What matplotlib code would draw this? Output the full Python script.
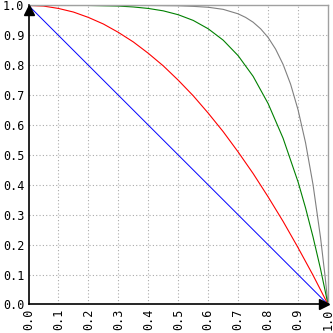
import matplotlib
matplotlib.use("Agg")
import matplotlib.pyplot as plt

# # # # # data # # # # #

# diagonal (blue)
x_blue = [0.0, 1.0]
y_blue = [1.0, 0.0]

# common x grid for the red and green curves
x_std = [0.0, 0.05, 0.1, 0.15, 0.2, 0.25, 0.3, 0.35, 0.4, 0.45, 0.5,
         0.55, 0.6, 0.65, 0.7, 0.75, 0.8, 0.85, 0.9, 0.925, 0.95, 0.975, 1.0]

y_red = [1.0, 0.998, 0.99, 0.978, 0.96, 0.938, 0.91, 0.878, 0.84, 0.798, 0.75,
         0.698, 0.64, 0.578, 0.51, 0.438, 0.36, 0.278, 0.19, 0.144, 0.098, 0.049, 0.0]

y_green = [1.0, 1.0, 1.0, 1.0, 1.0, 0.999, 0.998, 0.995, 0.99, 0.982, 0.969,
           0.95, 0.922, 0.884, 0.832, 0.763, 0.672, 0.556, 0.41, 0.323, 0.226, 0.119, 0.0]

x_gray = [0.0, 0.25, 0.4, 0.5, 0.55, 0.6, 0.65, 0.7, 0.725, 0.75, 0.775, 0.8, 0.825, 0.85,
          0.875, 0.9, 0.925, 0.95, 0.975, 0.99, 1.0]
y_gray = [1.0, 1.0, 1.0, 0.999, 0.997, 0.994, 0.987, 0.972, 0.96, 0.944, 0.922, 0.893,
          0.854, 0.803, 0.737, 0.651, 0.541, 0.401, 0.224, 0.096, 0.0]

ticks = [0.0, 0.1, 0.2, 0.3, 0.4, 0.5, 0.6, 0.7, 0.8, 0.9, 1.0]
tick_labels = ["%.1f" % t for t in ticks]


# # # # # figure # # # # #

fig = plt.figure(figsize=(3.33, 3.33), dpi=100)
ax = fig.add_axes([0.0856, 0.0856, 0.8994, 0.898])

# dotted grid
for t in ticks[1:-1]:
	ax.axvline(t, color="#aaaaaa", linestyle=(0, (1, 2)), linewidth=0.8, zorder=0)
	ax.axhline(t, color="#aaaaaa", linestyle=(0, (1, 2)), linewidth=0.8, zorder=0)

# curves
ax.plot(x_gray, y_gray, color="#808080", linewidth=0.8, zorder=2)
ax.plot(x_std, y_green, color="#008000", linewidth=0.8, zorder=2)
ax.plot(x_std, y_red, color="#ff0000", linewidth=0.8, zorder=2)
ax.plot(x_blue, y_blue, color="#0000ff", linewidth=0.7, zorder=2)

ax.set_xlim(0, 1)
ax.set_ylim(0, 1)

# spines
ax.spines["left"].set_color("black")
ax.spines["bottom"].set_color("black")
ax.spines["left"].set_linewidth(1.2)
ax.spines["bottom"].set_linewidth(1.2)
ax.spines["top"].set_color("#a0a0a0")
ax.spines["right"].set_color("#a0a0a0")
ax.spines["top"].set_linewidth(1.0)
ax.spines["right"].set_linewidth(1.0)

# arrow heads on the axes
ax.plot(0, 0.984, marker="^", color="black", markersize=6.5, clip_on=False, zorder=5)
ax.plot(0.986, 0, marker=">", color="black", markersize=6.5, clip_on=False, zorder=5)

# ticks
ax.set_xticks(ticks)
ax.set_yticks(ticks)
ax.set_xticklabels(tick_labels, rotation=90, family="DejaVu Sans Mono", fontsize=8.5)
ax.set_yticklabels(tick_labels, family="DejaVu Sans Mono", fontsize=8.5)
ax.tick_params(length=0, pad=3)

fig.savefig("out.png", dpi=100)
